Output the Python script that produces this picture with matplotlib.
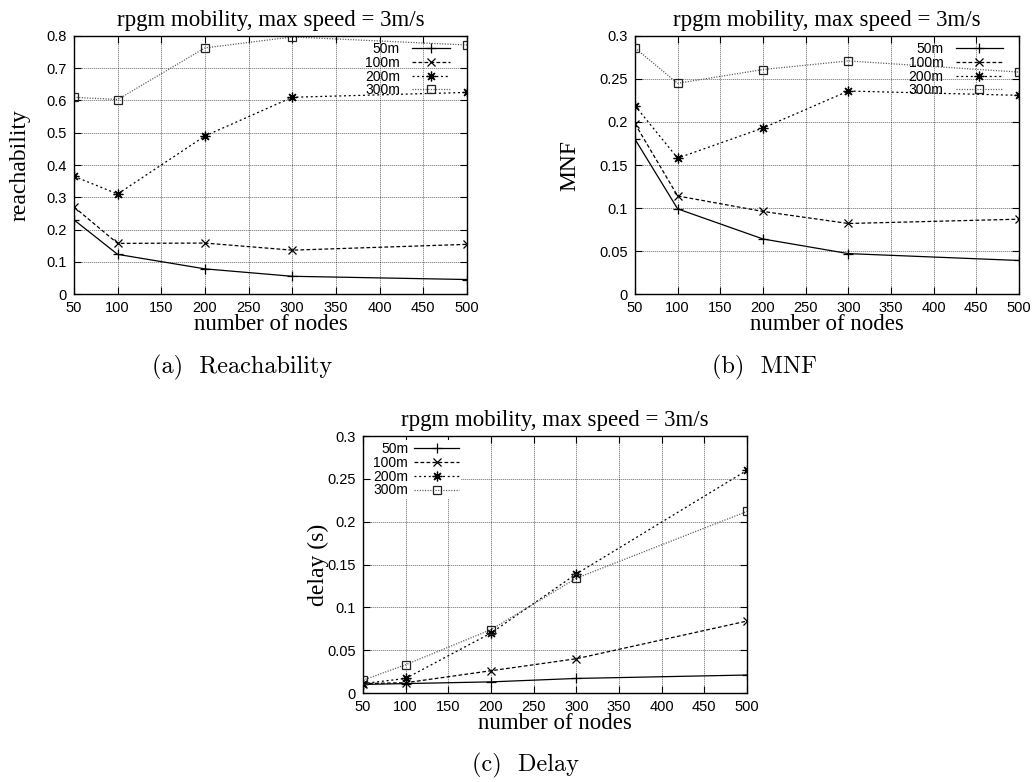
#!/usr/bin/env python3

import matplotlib

matplotlib.use("Agg")
import matplotlib.pyplot as plt


NODES = [50, 100, 200, 300, 500]
RANGES = ["50m", "100m", "200m", "300m"]

# reachability per transmission range
reach_50 = [0.230, 0.123, 0.078, 0.055, 0.045]
reach_100 = [0.270, 0.157, 0.158, 0.136, 0.154]
reach_200 = [0.365, 0.310, 0.490, 0.610, 0.625]
reach_300 = [0.610, 0.603, 0.763, 0.797, 0.772]

# MNF per transmission range
mnf_50 = [0.180, 0.099, 0.064, 0.047, 0.039]
mnf_100 = [0.198, 0.114, 0.096, 0.082, 0.087]
mnf_200 = [0.219, 0.158, 0.193, 0.236, 0.231]
mnf_300 = [0.286, 0.245, 0.261, 0.271, 0.258]

# delay (s) per transmission range
delay_50 = [0.010, 0.011, 0.013, 0.017, 0.021]
delay_100 = [0.011, 0.012, 0.026, 0.040, 0.084]
delay_200 = [0.011, 0.017, 0.070, 0.139, 0.260]
delay_300 = [0.015, 0.033, 0.074, 0.134, 0.212]

TITLE = "rpgm mobility, max speed = 3m/s"
SERIF = "Liberation Serif"
SANS = "Liberation Sans"

# gnuplot-like line styles: solid/+, dashed/x, short dash/asterisk, dotted/square
STYLES = [
    dict(color="black", linestyle="-", marker="+", markersize=7),
    dict(color="black", linestyle=(0, (3.0, 1.8)), marker="x", markersize=5.5),
    dict(color="black", linestyle=(0, (1.6, 2.2)), marker=(8, 2, 0), markersize=7),
    dict(color="#555555", linestyle=(0, (0.9, 1.2)), marker="s", markersize=5.5,
         markerfacecolor="none", markeredgecolor="#222222"),
]


def draw_panel(fig, rect, series, ylabel, ymax, ystep, yfmt, ylabel_x, key):
    ax = fig.add_axes(rect)
    for label, values, style in zip(RANGES, series, STYLES):
        ax.plot(NODES, values, linewidth=0.9, markeredgewidth=0.9, label=label, **style)

    ax.set_xlim(50, 500)
    ax.set_ylim(0, ymax)
    ax.set_xticks(range(50, 501, 50))
    yticks = [i * ystep for i in range(int(round(ymax / ystep)) + 1)]
    ax.set_yticks(yticks)
    ax.set_yticklabels([yfmt(v) for v in yticks])

    ax.grid(True, color="black", linestyle=(0, (0.8, 1.6)), linewidth=0.6)
    ax.tick_params(direction="in", length=5, width=0.8, top=True, right=True,
                   labelsize=10.5, pad=5)
    for lbl in ax.get_xticklabels() + ax.get_yticklabels():
        lbl.set_family(SANS)
    for spine in ax.spines.values():
        spine.set_linewidth(1.0)

    ax.set_title(TITLE, family=SERIF, fontsize=16.5, pad=7)
    ax.set_xlabel("number of nodes", family=SERIF, fontsize=16.5, labelpad=-1)
    ax.set_ylabel(ylabel, family=SERIF, fontsize=17, va="center")
    ax.yaxis.set_label_coords(ylabel_x, 0.5)

    loc, anchor, hlen, hpad = key
    opaque = loc == "upper left"
    ax.legend(loc=loc, bbox_to_anchor=anchor, markerfirst=False,
              handlelength=hlen, handletextpad=hpad, labelspacing=-0.02,
              borderaxespad=0.0, borderpad=0.15,
              prop={"family": SANS, "size": 10},
              frameon=opaque, fancybox=False, edgecolor="none", framealpha=1.0)
    return ax


def main() -> None:
    fig = plt.figure(figsize=(10.33, 7.82), dpi=100, facecolor="white")

    draw_panel(fig, [0.0716, 0.624, 0.3804, 0.330],
               [reach_50, reach_100, reach_200, reach_300],
               "reachability", 0.8, 0.1,
               lambda v: "0" if v == 0 else f"{v:.1f}", -0.137,
               ("upper right", (0.962, 0.984), 2.7, 0.9))

    draw_panel(fig, [0.6147, 0.624, 0.3717, 0.330],
               [mnf_50, mnf_100, mnf_200, mnf_300],
               "MNF", 0.3, 0.05,
               lambda v: "0" if v == 0 else f"{v:.2f}".rstrip("0"), -0.169,
               ("upper right", (0.964, 0.984), 3.4, 0.9))

    draw_panel(fig, [0.3514, 0.1138, 0.3717, 0.3286],
               [delay_50, delay_100, delay_200, delay_300],
               "delay (s)", 0.3, 0.05,
               lambda v: "0" if v == 0 else f"{v:.2f}".rstrip("0"), -0.117,
               ("upper left", (0.021, 0.984), 3.2, 0.45))

    caption = dict(family="cmr10", fontsize=17.5, ha="center", va="center")
    fig.text(242 / 1033, 1 - 367 / 782, "(a)  Reachability", **caption)
    fig.text(764 / 1033, 1 - 367 / 782, "(b)  MNF", **caption)
    fig.text(525 / 1033, 1 - 765 / 782, "(c)  Delay", **caption)

    fig.savefig("out.png", dpi=100)
    plt.close(fig)


if __name__ == "__main__":
    main()
